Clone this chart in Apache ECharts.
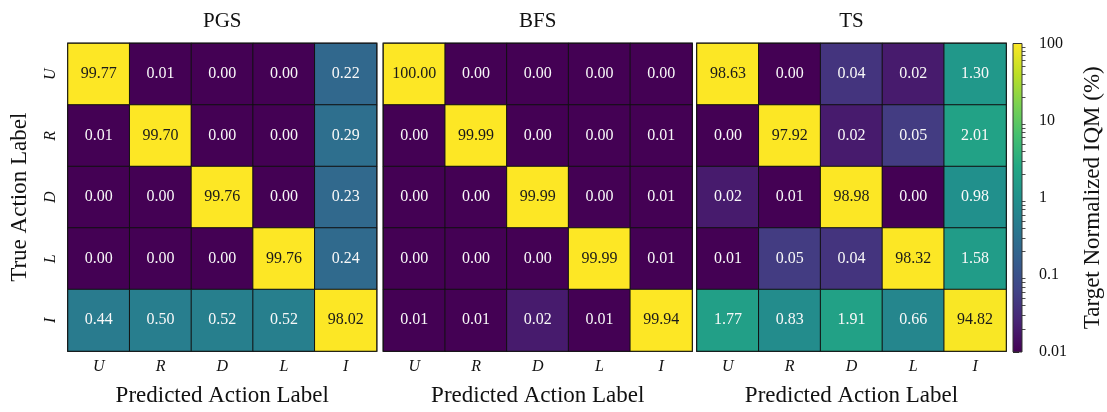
<!DOCTYPE html>
<html>
<head>
<meta charset="utf-8">
<script src="https://cdn.jsdelivr.net/npm/echarts@6/dist/echarts.min.js"></script>
<style>
  html, body { margin: 0; padding: 0; background: #ffffff; }
  #chart { width: 1107px; height: 412px; }
</style>
</head>
<body>
<div id="chart"></div>
<script>
// Action labels (rows = true action, columns = predicted action)
const actions = ['U', 'R', 'D', 'L', 'I'];
const panelTitles = ['PGS', 'BFS', 'TS'];

// Target-normalized IQM (%) per true/predicted action pair
const pgsValues = [
  [99.77, 0.01, 0.00, 0.00, 0.22],
  [0.01, 99.70, 0.00, 0.00, 0.29],
  [0.00, 0.00, 99.76, 0.00, 0.23],
  [0.00, 0.00, 0.00, 99.76, 0.24],
  [0.44, 0.50, 0.52, 0.52, 98.02]
];
const bfsValues = [
  [100.00, 0.00, 0.00, 0.00, 0.00],
  [0.00, 99.99, 0.00, 0.00, 0.01],
  [0.00, 0.00, 99.99, 0.00, 0.01],
  [0.00, 0.00, 0.00, 99.99, 0.01],
  [0.01, 0.01, 0.02, 0.01, 99.94]
];
const tsValues = [
  [98.63, 0.00, 0.04, 0.02, 1.30],
  [0.00, 97.92, 0.02, 0.05, 2.01],
  [0.02, 0.01, 98.98, 0.00, 0.98],
  [0.01, 0.05, 0.04, 98.32, 1.58],
  [1.77, 0.83, 1.91, 0.66, 94.82]
];

// Log colour scale limits and colour-bar ticks
const colourMin = 0.01;
const colourMax = 100;
const colourTicks = [0.01, 0.1, 1, 10, 100];

const viridis = ['#440154', '#482475', '#414487', '#355f8d', '#2a788e', '#21918c',
                 '#22a884', '#44bf70', '#7ad151', '#bddf26', '#fde725'];

const FONT = '"Liberation Serif", "DejaVu Serif", serif';
const INK = '#111111';
const logMin = Math.log10(colourMin);
const logMax = Math.log10(colourMax);

const panels = [pgsValues, bfsValues, tsValues];
const gridBoxes = [
  { left: 68, width: 308.5 },
  { left: 383.5, width: 308.5 },
  { left: 697, width: 309 }
];
const gridTop = 43.5, gridHeight = 308.5;

function cellData(matrix) {
  const out = [];
  matrix.forEach((row, r) => row.forEach((v, c) => {
    const lv = Math.min(logMax, Math.max(logMin, Math.log10(Math.max(v, colourMin))));
    out.push({ value: [c, r, lv, v], label: { color: v >= 50 ? '#1a1a1a' : '#f8f8f8' } });
  }));
  return out;
}

// minor ticks of the logarithmic colour bar (2..9 within each decade)
const minorTicks = [];
for (let d = logMin; d < logMax; d++) {
  for (let k = 2; k <= 9; k++) minorTicks.push(d + Math.log10(k));
}

const grids = gridBoxes.map(g => ({
  left: g.left, width: g.width, top: gridTop, height: gridHeight,
  show: true, borderColor: '#333', borderWidth: 2, backgroundColor: 'transparent'
}));
grids.push({ left: 1013, width: 9, top: gridTop, height: gridHeight });

const xAxes = gridBoxes.map((g, i) => ({
  type: 'category', data: actions, gridIndex: i, position: 'bottom',
  axisLine: { show: false }, axisTick: { show: false }, splitLine: { show: false },
  axisLabel: { fontFamily: FONT, fontStyle: 'italic', fontSize: 16, color: INK, margin: 8 },
  name: 'Predicted Action Label', nameLocation: 'middle', nameGap: 33,
  nameTextStyle: { fontFamily: FONT, fontSize: 23, color: INK }
}));
xAxes.push({ type: 'value', gridIndex: 3, min: 0, max: 1, show: false });

const yAxes = gridBoxes.map((g, i) => ({
  type: 'category', data: actions, gridIndex: i, inverse: true,
  axisLine: { show: false }, axisTick: { show: false }, splitLine: { show: false },
  axisLabel: { show: i === 0, rotate: 90, fontFamily: FONT, fontStyle: 'italic', fontSize: 16, color: INK, margin: 9 },
  name: i === 0 ? 'True Action Label' : '', nameLocation: 'middle', nameGap: 37,
  nameTextStyle: { fontFamily: FONT, fontSize: 23, color: INK }
}));
yAxes.push({
  type: 'value', gridIndex: 3, min: logMin, max: logMax, position: 'right',
  axisLine: { show: false }, splitLine: { show: false },
  axisTick: { show: true, inside: false, length: 6, customValues: colourTicks.map(Math.log10),
              lineStyle: { color: '#222', width: 1 } },
  axisLabel: {
    customValues: colourTicks.map(Math.log10), margin: 17,
    fontFamily: FONT, fontSize: 16, color: INK,
    formatter: v => {
      const e = Math.round(v);
      return e < 0 ? Math.pow(10, e).toFixed(-e) : String(Math.pow(10, e));
    }
  },
  name: 'Target Normalized IQM (%)', nameLocation: 'middle', nameGap: 59, nameRotate: 90,
  nameTextStyle: { fontFamily: FONT, fontSize: 23, color: INK }
});
yAxes.push({
  type: 'value', gridIndex: 3, min: logMin, max: logMax, position: 'right',
  axisLine: { show: false }, splitLine: { show: false }, axisLabel: { show: false },
  axisTick: { show: true, inside: false, length: 3.5, customValues: minorTicks,
              lineStyle: { color: '#222', width: 0.8 } }
});

const series = panels.map((m, i) => ({
  type: 'heatmap', xAxisIndex: i, yAxisIndex: i,
  data: cellData(m),
  label: {
    show: true, fontFamily: FONT, fontSize: 16,
    formatter: p => p.value[3].toFixed(2)
  },
  itemStyle: { borderColor: '#111', borderWidth: 1 },
  emphasis: { disabled: true }
}));

// colour bar: a gradient strip spanning the colour limits on the log axis
series.push({
  type: 'custom', xAxisIndex: 3, yAxisIndex: 3, silent: true,
  data: [[0, logMin, 1, logMax]],
  renderItem: (params, api) => {
    const p0 = api.coord([api.value(0), api.value(1)]);
    const p1 = api.coord([api.value(2), api.value(3)]);
    return {
      type: 'rect',
      shape: { x: p0[0], y: p1[1], width: p1[0] - p0[0], height: p0[1] - p1[1] },
      style: {
        fill: new echarts.graphic.LinearGradient(0, 1, 0, 0,
          viridis.map((c, k) => ({ offset: k / (viridis.length - 1), color: c }))),
        stroke: '#333', lineWidth: 1
      }
    };
  }
});

const chart = echarts.init(document.getElementById('chart'), null, { renderer: 'canvas' });
chart.setOption({
  animation: false,
  backgroundColor: '#ffffff',
  title: panelTitles.map((t, i) => ({
    text: t, left: gridBoxes[i].left + gridBoxes[i].width / 2, top: 11,
    textAlign: 'center', padding: 0,
    textStyle: { fontFamily: FONT, fontSize: 21, fontWeight: 'normal', color: INK }
  })),
  grid: grids,
  xAxis: xAxes,
  yAxis: yAxes,
  visualMap: {
    type: 'continuous', show: false, min: logMin, max: logMax, dimension: 2,
    seriesIndex: [0, 1, 2], inRange: { color: viridis }
  },
  series: series
});
</script>
</body>
</html>
